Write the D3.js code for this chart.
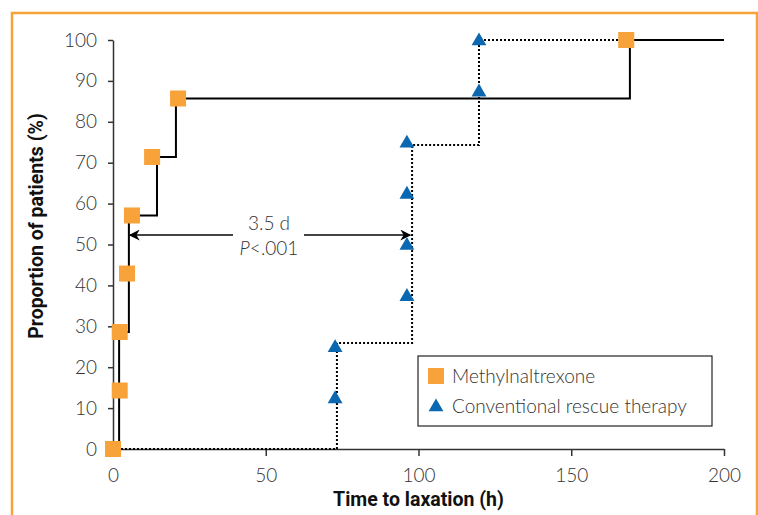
<!DOCTYPE html>
<html>
<head>
<meta charset="utf-8">
<script src="https://cdn.jsdelivr.net/npm/d3@7"></script>
<style>
  body { margin: 0; background: #fff; }
  .tick text { font-family: Lato, "Open Sans", sans-serif; font-weight: 300; font-size: 19px; fill: #333; }
  .lbl { font-family: Roboto, "Liberation Sans", sans-serif; font-weight: bold; font-size: 19.5px; fill: #111; }
  .note, .leg { font-family: Lato, "Open Sans", sans-serif; font-weight: 300; font-size: 19px; fill: #333; }
</style>
</head>
<body>
<div class="canvas"></div>
<script>
// data (hours, % of patients)
const xTicks = [0, 50, 100, 150, 200];
const yTicks = [0, 10, 20, 30, 40, 50, 60, 70, 80, 90, 100];

// methylnaltrexone : step curve + markers
const mntxStepTimes = [0, 2, 5.2, 14.4, 20.6, 169.2, 200];
const mntxStepLevels = [0, 28.6, 57.1, 71.4, 85.7, 100, 100];
const mntxMarkTimes = [0, 2.2, 2.2, 4.6, 6.2, 12.8, 21.3, 168];
const mntxMarkLevels = [0, 14.3, 28.6, 42.9, 57.1, 71.4, 85.7, 100];

// conventional rescue therapy : step curve + markers
const convStepTimes = [0, 73.3, 97.9, 119.8, 168];
const convStepLevels = [0, 25.9, 74.3, 100, 100];
const convMarkTimes = [72.7, 72.7, 96.2, 96.2, 96.2, 96.2, 119.8, 119.8];
const convMarkLevels = [12.5, 25, 37.5, 50, 62.5, 75, 87.5, 100];

const seriesNames = ['Methylnaltrexone', 'Conventional rescue therapy'];
const arrowLevel = 52.3;
const arrowFrom = 5.5, arrowTo = 97.3;

const dims = { width: 758, height: 515 };
const orange = '#f8a23a', blue = '#0a67b1';

const svg = d3.select('.canvas')
  .append('svg')
  .attr('width', dims.width)
  .attr('height', dims.height);

// frame
svg.append('rect')
  .attr('x', 12).attr('y', 13)
  .attr('width', 745).attr('height', 540)
  .attr('fill', 'none')
  .attr('stroke', orange)
  .attr('stroke-width', 2.5);

const x = d3.scaleLinear().domain([0, 200]).range([113, 724]);
const y = d3.scaleLinear().domain([0, 100]).range([449, 40]);

// axes
const xAxis = svg.append('g')
  .attr('transform', `translate(0, ${y(0)})`)
  .call(d3.axisBottom(x).tickValues(xTicks).tickSize(7).tickSizeOuter(0).tickPadding(13));
const yAxis = svg.append('g')
  .attr('transform', `translate(${x(0)}, 0)`)
  .call(d3.axisLeft(y).tickValues(yTicks).tickSize(5).tickSizeOuter(0).tickPadding(11));
[xAxis, yAxis].forEach(a => {
  a.select('.domain').attr('stroke', '#333').attr('stroke-width', 1.5);
  a.selectAll('.tick line').attr('stroke', '#333').attr('stroke-width', 1.5);
});

svg.append('text').attr('class', 'lbl')
  .attr('x', (x(0) + x(200)) / 2).attr('y', 506)
  .attr('text-anchor', 'middle')
  .text('Time to laxation (h)');
svg.append('text').attr('class', 'lbl')
  .attr('transform', `translate(43, 226) rotate(-90)`)
  .attr('text-anchor', 'middle')
  .text('Proportion of patients (%)');

// step lines
const step = d3.line()
  .x(d => x(d[0]))
  .y(d => y(d[1]))
  .curve(d3.curveStepAfter);

svg.append('path')
  .datum(d3.zip(convStepTimes, convStepLevels))
  .attr('d', step)
  .attr('fill', 'none')
  .attr('stroke', '#000')
  .attr('stroke-width', 2)
  .attr('stroke-dasharray', '2,2');

svg.append('path')
  .datum(d3.zip(mntxStepTimes, mntxStepLevels))
  .attr('d', step)
  .attr('fill', 'none')
  .attr('stroke', '#000')
  .attr('stroke-width', 2);

// arrow with annotation
const defs = svg.append('defs');
defs.append('marker')
  .attr('id', 'head')
  .attr('viewBox', '0 0 10 10')
  .attr('refX', 9).attr('refY', 5)
  .attr('markerWidth', 5.5).attr('markerHeight', 5.5)
  .attr('markerUnits', 'strokeWidth')
  .attr('orient', 'auto-start-reverse')
  .append('path')
  .attr('d', 'M0,0 L10,5 L0,10 L3,5 Z')
  .attr('fill', '#000');

const gapL = 233, gapR = 304;
svg.append('line')
  .attr('x1', x(arrowFrom)).attr('x2', gapL)
  .attr('y1', y(arrowLevel)).attr('y2', y(arrowLevel))
  .attr('stroke', '#444').attr('stroke-width', 2)
  .attr('marker-start', 'url(#head)');
svg.append('line')
  .attr('x1', gapR).attr('x2', x(arrowTo))
  .attr('y1', y(arrowLevel)).attr('y2', y(arrowLevel))
  .attr('stroke', '#444').attr('stroke-width', 2)
  .attr('marker-end', 'url(#head)');

svg.append('text').attr('class', 'note')
  .attr('x', 269).attr('y', 230)
  .attr('text-anchor', 'middle')
  .text('3.5 d');
const pv = svg.append('text').attr('class', 'note')
  .attr('x', 269).attr('y', 255)
  .attr('text-anchor', 'middle');
pv.append('tspan').attr('font-style', 'italic').text('P');
pv.append('tspan').text('<.001');

// markers
const tri = d3.symbol().type(d3.symbolTriangle).size(95);
svg.append('g').selectAll('path')
  .data(d3.zip(convMarkTimes, convMarkLevels))
  .join('path')
  .attr('d', tri)
  .attr('transform', d => `translate(${x(d[0])}, ${y(d[1]) + 1})`)
  .attr('fill', blue);

svg.append('g').selectAll('rect')
  .data(d3.zip(mntxMarkTimes, mntxMarkLevels))
  .join('rect')
  .attr('x', d => x(d[0]) - 8)
  .attr('y', d => y(d[1]) - 8)
  .attr('width', 16).attr('height', 16)
  .attr('fill', orange);

// legend
const legend = svg.append('g');
legend.append('rect')
  .attr('x', 418).attr('y', 356)
  .attr('width', 294).attr('height', 70)
  .attr('fill', '#fff')
  .attr('stroke', '#222').attr('stroke-width', 1.2);
legend.append('rect')
  .attr('x', 428).attr('y', 368)
  .attr('width', 16).attr('height', 16)
  .attr('fill', orange);
legend.append('path')
  .attr('d', tri)
  .attr('transform', 'translate(436, 407)')
  .attr('fill', blue);
legend.selectAll('text')
  .data(seriesNames)
  .join('text')
  .attr('class', 'leg')
  .attr('x', 452)
  .attr('y', (d, i) => 383 + i * 30)
  .text(d => d);
</script>
</body>
</html>
